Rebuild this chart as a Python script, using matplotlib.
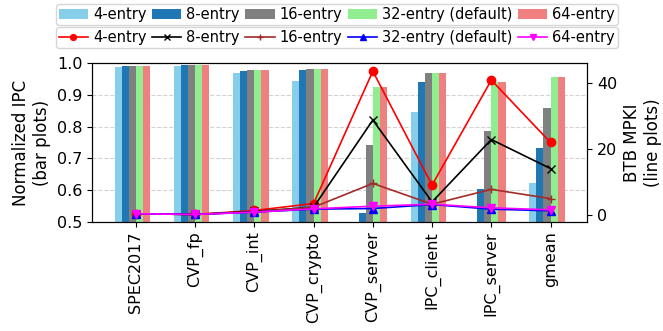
import numpy as np
import matplotlib
matplotlib.use("Agg")
import matplotlib.pyplot as plt

categories = ["SPEC2017", "CVP_fp", "CVP_int", "CVP_crypto", "CVP_server",
              "IPC_client", "IPC_server", "gmean"]
configs = ["4-entry", "8-entry", "16-entry", "32-entry (default)", "64-entry"]

# Normalized IPC per BTB size
ipc_4 = [0.989, 0.993, 0.968, 0.944, 0.45, 0.845, 0.45, 0.623]
ipc_8 = [0.990, 0.995, 0.977, 0.979, 0.527, 0.941, 0.603, 0.732]
ipc_16 = [0.990, 0.995, 0.979, 0.983, 0.742, 0.968, 0.786, 0.860]
ipc_32 = [0.990, 0.995, 0.979, 0.983, 0.926, 0.968, 0.940, 0.958]
ipc_64 = [0.990, 0.995, 0.979, 0.983, 0.926, 0.968, 0.940, 0.958]

# BTB MPKI per BTB size
mpki_4 = [0.4, 0.2, 1.4, 3.5, 43.6, 9.1, 40.9, 22.0]
mpki_8 = [0.4, 0.2, 1.1, 2.4, 28.8, 4.0, 22.9, 14.1]
mpki_16 = [0.4, 0.2, 1.0, 2.4, 9.6, 3.3, 7.8, 5.0]
mpki_32 = [0.4, 0.2, 0.9, 1.8, 2.0, 3.2, 1.8, 1.3]
mpki_64 = [0.4, 0.2, 0.9, 1.9, 2.7, 3.3, 2.2, 1.6]

ipc = [ipc_4, ipc_8, ipc_16, ipc_32, ipc_64]
mpki = [mpki_4, mpki_8, mpki_16, mpki_32, mpki_64]

bar_colors = ["skyblue", "tab:blue", "grey", "lightgreen", "lightcoral"]
line_colors = ["red", "black", "brown", "blue", "magenta"]
markers = ["o", "x", "+", "^", "v"]

TICK_FS = 11.5
LABEL_FS = 12
LEG_FS = 10.5
plt.rcParams["font.size"] = TICK_FS

fig = plt.figure(figsize=(6.63, 3.31), dpi=100)
ax = fig.add_axes([0.1388, 0.3302, 0.8858 - 0.1388, 0.8088 - 0.3302])
x = np.arange(len(categories))
w = 0.12

ax.set_axisbelow(True)
ax.yaxis.grid(True, linestyle="--", color="lightgrey", linewidth=0.8)
bar_handles = []
for i, (vals, c, lab) in enumerate(zip(ipc, bar_colors, configs)):
    h = ax.bar(x + (i - 3) * w, vals, width=w, align="edge", color=c, label=lab)
    bar_handles.append(h)
ax.set_ylim(0.5, 1.0)
ax.set_yticks(np.arange(0.5, 1.01, 0.1))
ax.set_xticks(x)
ax.set_xticklabels(categories, rotation=90)
ax.set_ylabel("Normalized IPC\n(bar plots)", fontsize=LABEL_FS)

ax2 = ax.twinx()
line_handles = []
for vals, c, m, lab in zip(mpki, line_colors, markers, configs):
    (h,) = ax2.plot(x, vals, color=c, marker=m, markersize=6, linewidth=1.2, label=lab)
    line_handles.append(h)
ax2.set_ylim(-2.0, 46.0)
ax2.set_yticks([0, 20, 40])
ax2.set_ylabel("BTB MPKI\n(line plots)", fontsize=LABEL_FS)

leg_kw = dict(ncol=5, handlelength=2.0, handletextpad=0.35, columnspacing=0.38,
              borderpad=0.2, borderaxespad=0.0, fontsize=LEG_FS, loc="upper center",
              markerscale=0.7)
leg1 = fig.legend(bar_handles, configs, bbox_to_anchor=(337 / 663, 1 - 4.5 / 331), **leg_kw)
leg2 = fig.legend(line_handles, configs, bbox_to_anchor=(337 / 663, 1 - 27 / 331), **leg_kw)

fig.savefig("out.png", dpi=100)
